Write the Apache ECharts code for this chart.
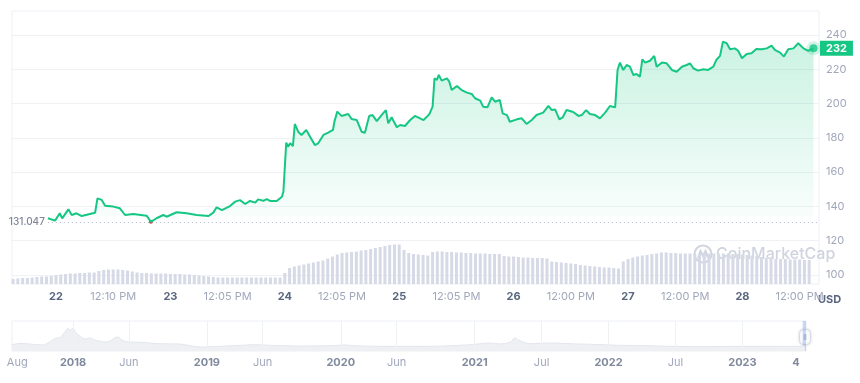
<!DOCTYPE html>
<html><head><meta charset="utf-8">
<script src="https://cdn.jsdelivr.net/npm/echarts@6/dist/echarts.min.js"></script>
<style>html,body{margin:0;padding:0;background:#fff}#c{width:860px;height:383px}</style>
</head><body><div id="c"></div>
<script>
// ---- Price (hours since day 22, 00:00) ----
const priceTimes = [-1.7,-1.3,-0.2,0.8,1.3,2.6,3.3,4.3,5.4,7.1,8.2,8.7,9.6,10.3,12.0,13.4,14.5,16.2,19.0,19.9,21.1,22.5,23.2,25.3,27.4,29.5,32.0,33.0,33.7,34.8,36.5,37.6,38.6,39.7,40.7,41.8,42.4,43.5,44.2,44.9,46.3,47.4,47.7,48.3,48.7,49.1,49.7,50.1,50.8,51.5,52.5,53.3,54.3,55.0,56.1,57.1,58.1,58.4,59.0,59.9,61.3,62.0,63.1,64.1,64.8,65.7,66.4,67.3,68.3,69.2,69.7,70.4,71.5,72.2,73.2,74.3,75.3,77.1,78.3,78.5,79.0,79.4,79.9,80.3,80.9,82.0,82.5,83.0,84.1,85.1,86.2,87.2,87.9,89.0,89.6,90.5,91.4,92.1,93.1,93.7,94.6,95.2,96.7,97.7,98.7,99.8,100.8,102.2,103.3,104.0,104.7,105.6,106.3,107.1,108.5,109.6,110.3,111.2,112.0,113.1,114.1,115.2,116.2,117.3,117.8,118.3,119.0,119.7,120.4,121.1,121.8,122.5,123.0,123.6,124.6,125.5,126.0,127.1,128.1,129.2,130.2,131.3,132.3,133.0,133.7,134.7,135.8,136.8,137.9,138.5,139.3,139.9,140.7,141.4,142.4,143.1,143.9,144.9,145.9,146.9,148.0,149.1,150.1,150.8,151.9,152.7,153.6,154.7,155.7,156.8,157.8,158.9];
const prices = [133.1,132.0,131.7,136.0,133.0,138.3,135.0,136.0,134.4,135.6,136.3,144.7,143.8,140.4,139.9,138.9,135.0,135.6,134.6,131.047,133.1,135.0,134.0,136.6,136.0,135.0,134.4,136.4,139.5,137.9,140.2,142.8,143.7,141.4,143.2,142.2,144.1,143.3,144.3,143.2,143.2,145.7,148.6,177.2,174.8,176.8,175.2,188.1,183.6,181.7,184.6,180.7,175.8,176.8,181.7,183.0,184.6,189.4,195.3,192.8,193.9,191.0,190.4,183.6,183.0,192.8,193.3,189.8,193.3,196.2,188.5,192.0,186.2,187.5,186.9,190.4,192.8,190.4,193.7,194.3,198.2,214.7,213.8,216.7,213.4,214.7,212.8,207.9,210.2,207.9,206.4,205.6,203.1,201.7,198.2,197.8,203.6,201.1,202.1,194.3,193.3,189.4,190.8,191.4,188.1,190.4,193.3,194.7,198.6,196.2,196.6,190.8,192.0,196.2,195.1,192.8,193.3,196.2,193.9,193.3,191.4,194.7,198.6,197.8,219.6,223.9,219.6,222.5,221.5,216.7,217.2,215.7,225.8,223.9,225.0,227.8,221.5,223.9,223.5,219.6,218.6,221.5,222.5,223.5,220.6,219.2,220.0,219.6,221.5,225.4,227.8,236.1,235.2,231.7,232.2,230.8,226.4,228.9,229.3,231.8,231.7,232.2,233.8,231.3,229.7,227.4,231.7,232.2,235.2,232.2,230.8,232.2];
const openPrice = 131.047;

// ---- Volume, hourly samples starting at hour -9 ----
const volumeStartHour = -9;
const volumes = [10,11,12,12,13,14,15,15,16,
 18,19,20,21,21,22,22,23,23,26,
 28,29,29,29,28,27,25,23,22,22,
 21,21,21,21,20,20,20,19,19,18,
 17,16,15,14,13,13,13,13,13,13,
 13,13,13,13,13,13,13,13,
 22,32,35,37,39,41,43,45,47,51,55,59,
 62,63,64,65,67,68,70,72,74,76,
 78,79,79,68,62,60,59,58,57,64,
 65,65,64,64,63,63,62,62,61,61,
 61,60,60,60,56,55,55,54,53,53,
 52,52,52,51,45,44,43,42,41,40,
 38,37,36,35,34,33,33,32,31,45,
 50,53,55,57,58,60,61,63,63,62,
 62,61,61,61,60,60,61,61,61,61,
 61,61,60,60,59,58,57,56,54,52,
 51,50,50,50,49,49,49,48,48];

// ---- Axis ticks ----
const xTickHours = [0,12,24,36,48,60,72,84,96,108,120,132,144,156];
const xTickLabels = ['22','12:10 PM','23','12:05 PM','24','12:05 PM','25','12:05 PM','26','12:00 PM','27','12:00 PM','28','12:00 PM'];

// ---- Navigator (months since Jan 2018) ----
const navMonths = [-5.5,-4.75,-3.6,-2.7,-2.06,-1.6,-1.17,-0.72,-0.45,-0.27,0,0.27,0.63,1.08,1.52,1.97,2.87,3.32,3.77,4.04,4.48,5.11,6.0,7.8,9.6,10.5,11.4,13.2,15.0,16.3,17.7,20.4,23.0,24.4,25.3,27.5,30.2,32.0,35.6,37.4,38.3,39.2,39.6,40.1,41.0,42.8,44.6,46.4,49.1,51.7,53.5,56.2,59.8,63.4,65.6];
const navValues = [6,7.7,6.7,6,9.3,12.7,13.3,19.3,22.7,21,22.7,18,14.7,12,13,11,9,10,13.3,14,10.3,9,8.7,7.3,7,5.3,4,4.7,5.7,6.3,5.7,5,5.3,6,5.3,4.7,4.7,4.7,6.3,8,7,9,13,10,7.3,8,7.3,6.7,5.7,5.3,4.7,4.3,4.7,4.7,4.7];
const navTickMonths = [-5,0,5,12,17,24,29,36,42,48,54,60,64.8];
const navTickLabels = ['Aug','2018','Jun','2019','Jun','2020','Jun','2021','Jul','2022','Jul','2023','4'];
const navGridMonths = [0,5,12,17,24,29,36,42,48,54,60];

const GREEN = '#16c784';
const FONT = 'Inter';
const chart = echarts.init(document.getElementById('c'), null, {renderer: 'canvas'});

const priceData = priceTimes.map((t, i) => [t, prices[i]]);
const volData = volumes.map((v, i) => [volumeStartHour + i, v]);
const navData = navMonths.map((m, i) => [m, navValues[i]]);
const lastT = priceTimes[priceTimes.length - 1];
const lastP = prices[prices.length - 1];
const minIdx = prices.indexOf(Math.min(...prices));

chart.setOption({
  animation: false,
  textStyle: {fontFamily: FONT},
  grid: [
    {left: 12, top: 11, width: 807, height: 273, show: true, borderColor: '#eceff4', borderWidth: 1, backgroundColor: 'transparent'},
    {left: 12, top: 35, width: 807, height: 240},
    {left: 12, top: 240, width: 807, height: 44},
    {left: 12, top: 321, width: 794, height: 30, show: true, borderColor: '#eceff4', borderWidth: 1}
  ],
  xAxis: [
    {gridIndex: 0, type: 'value', show: false, min: 0, max: 1},
    {gridIndex: 1, type: 'value', show: false, min: -9.23, max: 160.06},
    {gridIndex: 2, type: 'value', min: -9.23, max: 160.06,
     axisLine: {show: false}, axisTick: {show: false}, splitLine: {show: false},
     axisLabel: {
       customValues: xTickHours, margin: 7, showMinLabel: true, showMaxLabel: true,
       formatter: (v) => {
         const i = xTickHours.indexOf(v);
         const s = xTickLabels[i];
         return i % 2 === 0 ? '{d|' + s + '}' : '{t|' + s + '}';
       },
       rich: {
         d: {fontSize: 11, fontWeight: 'bold', color: '#58667e', fontFamily: FONT},
         t: {fontSize: 11, color: '#a1a7bb', fontFamily: FONT}
       }
     }},
    {gridIndex: 3, type: 'value', min: -5.47, max: 65.7,
     axisLine: {show: false}, axisTick: {show: false}, splitLine: {show: false},
     axisLabel: {
       customValues: navTickMonths, margin: 6,
       formatter: (v) => {
         const i = navTickMonths.indexOf(v);
         const s = navTickLabels[i];
         return /^\d{4}$/.test(s) || s === '4' ? '{y|' + s + '}' : '{m|' + s + '}';
       },
       rich: {
         y: {fontSize: 11, fontWeight: 'bold', color: '#808a9d', fontFamily: FONT},
         m: {fontSize: 11, color: '#a1a7bb', fontFamily: FONT}
       }
     }}
  ],
  yAxis: [
    {gridIndex: 0, type: 'value', show: false, min: 0, max: 1},
    {gridIndex: 1, type: 'value', position: 'right', min: 100, max: 240, interval: 20,
     axisLine: {show: false}, axisTick: {show: false},
     splitLine: {lineStyle: {color: '#eff2f5', width: 1}},
     axisLabel: {color: '#a1a7bb', fontSize: 11, margin: 7, fontFamily: FONT}},
    {gridIndex: 2, type: 'value', show: false, min: 0, max: 88},
    {gridIndex: 3, type: 'value', show: false, min: 0, max: 30}
  ],
  series: [
    {
      type: 'bar', xAxisIndex: 2, yAxisIndex: 2, data: volData, barWidth: 3,
      itemStyle: {color: '#d5dae6'}, silent: true
    },
    {
      type: 'line', xAxisIndex: 1, yAxisIndex: 1, data: priceData, showSymbol: false,
      lineStyle: {color: GREEN, width: 2}, z: 5,
      areaStyle: {
        origin: 134,
        color: new echarts.graphic.LinearGradient(0, 0, 0, 1, [
          {offset: 0, color: 'rgba(22,199,132,0.32)'},
          {offset: 1, color: 'rgba(22,199,132,0.03)'}
        ])
      },
      markLine: {
        silent: true, symbol: 'none', animation: false,
        data: [
          [{coord: [priceTimes[0], openPrice],
            lineStyle: {color: '#b3bac9', type: [1, 3], width: 1},
            label: {show: true, position: 'start', formatter: String(openPrice), color: '#7d879a', fontSize: 10, fontWeight: 500, distance: 3, fontFamily: FONT}},
           {coord: [160.06, openPrice]}]
        ]
      },
      markPoint: {
        silent: true, symbol: 'circle', symbolSize: 4,
        itemStyle: {color: '#ea3943'}, label: {show: false},
        data: [{coord: [priceTimes[minIdx], prices[minIdx]]}]
      }
    },
    {
      type: 'scatter', xAxisIndex: 1, yAxisIndex: 1, data: [[lastT, lastP]], symbolSize: 8, z: 6,
      itemStyle: {color: GREEN, borderColor: 'rgba(22,199,132,0.25)', borderWidth: 6},
      markLine: {
        silent: true, symbol: 'none', animation: false,
        lineStyle: {color: 'rgba(0,0,0,0)', width: 0},
        data: [{yAxis: lastP,
           label: {show: true, position: 'end', distance: 1, formatter: String(Math.round(lastP)),
                   backgroundColor: GREEN, color: '#fff', fontWeight: 'bold', fontSize: 11,
                   padding: [2, 6, 1, 6], lineHeight: 12, fontFamily: FONT}}]
      }
    },
    {
      type: 'line', xAxisIndex: 3, yAxisIndex: 3, data: navData, showSymbol: false, smooth: 0.3,
      lineStyle: {color: '#e3e6ed', width: 1}, areaStyle: {color: '#eef0f4', opacity: 1},
      markLine: {
        silent: true, symbol: 'none', label: {show: false},
        lineStyle: {color: '#eff2f5', type: 'solid', width: 1},
        data: navGridMonths.map(m => ({xAxis: m}))
      },
      markArea: {
        silent: true, itemStyle: {color: 'rgba(140,165,235,0.45)'},
        data: [[{xAxis: 65.4}, {xAxis: 65.7}]]
      }
    }
  ],
  graphic: [
    {type: 'text', left: 818, top: 294, style: {text: 'USD', font: 'bold 11px Inter', fill: '#58667e'}},
    {type: 'group', left: 692, top: 243, silent: true, children: [
      {type: 'circle', shape: {cx: 10, cy: 10, r: 8.5}, style: {fill: 'none', stroke: 'rgba(160,170,192,0.5)', lineWidth: 2}},
      {type: 'polyline', shape: {points: [[5, 14], [7.5, 7], [10, 12], [12.5, 7], [15, 14]]}, style: {fill: 'none', stroke: 'rgba(160,170,192,0.5)', lineWidth: 2}},
      {type: 'text', x: 23, y: 10, style: {text: 'CoinMarketCap', font: '500 16px Inter', fill: 'rgba(160,170,192,0.5)', verticalAlign: 'middle'}}
    ]},
    {type: 'group', left: 799, top: 329, children: [
      {type: 'rect', shape: {x: 0, y: 0, width: 11, height: 15, r: 4}, style: {fill: '#fff', stroke: '#d6dbe6', lineWidth: 1, shadowBlur: 3, shadowColor: 'rgba(0,0,0,0.15)'}},
      {type: 'rect', shape: {x: 4, y: 4.5, width: 3, height: 6}, style: {fill: '#c3c9d6'}}
    ]}
  ]
});
</script></body></html>
